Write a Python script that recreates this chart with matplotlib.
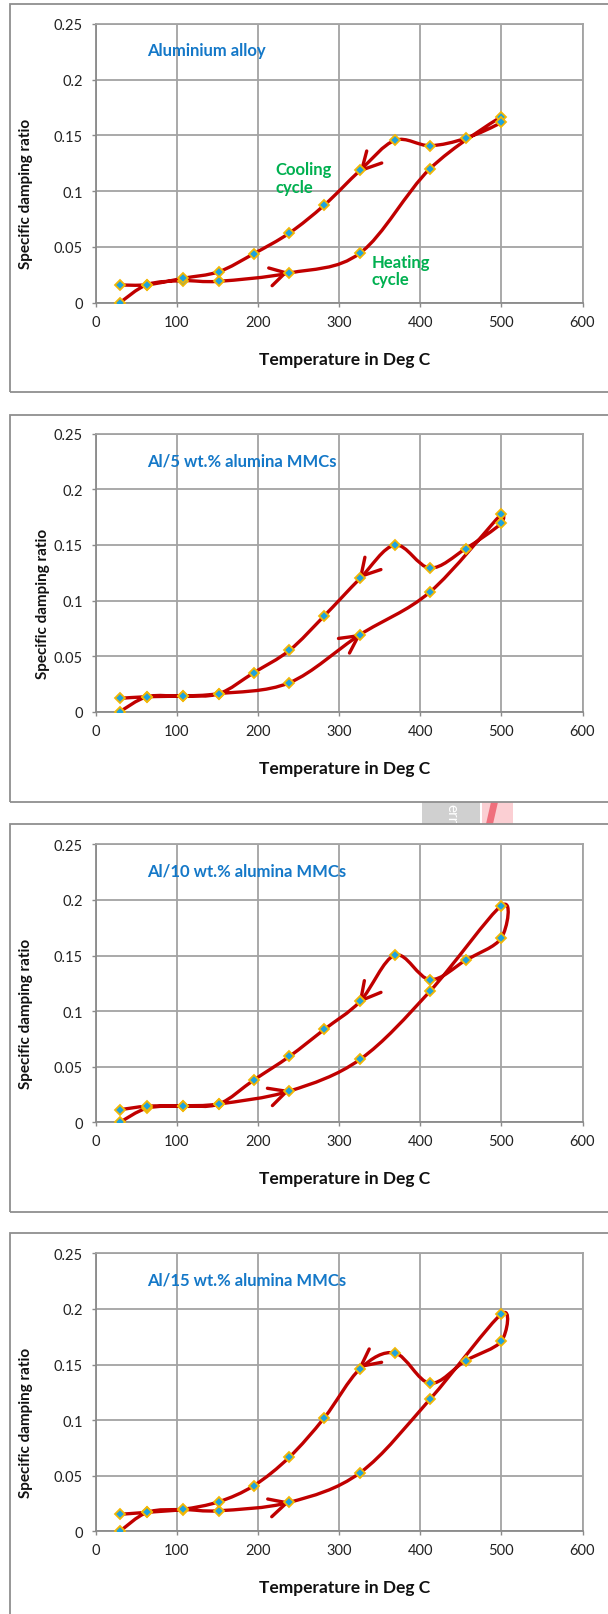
import numpy as np
import matplotlib
matplotlib.use("Agg")
import matplotlib.pyplot as plt
from matplotlib.path import Path
from matplotlib.patches import PathPatch, Rectangle, Polygon

plt.rcParams['font.family'] = ['Lato', 'DejaVu Sans']

W, H, DPI = 608, 1615, 100

# ---------------- data ----------------
titles = ["Aluminium alloy", "Al/5 wt.% alumina MMCs",
          "Al/10 wt.% alumina MMCs", "Al/15 wt.% alumina MMCs"]

heat_temp = [30, 64, 108, 152, 239, 326, 412, 500]
cool_temp = [500, 456, 412, 369, 326, 282, 239, 195, 152, 108, 64, 30]

heat_sdr_al = [0.0, 0.0163, 0.0197, 0.0192, 0.0266, 0.0445, 0.1200, 0.1667]
cool_sdr_al = [0.1616, 0.1473, 0.1407, 0.1455, 0.1186, 0.0875, 0.0625,
               0.0439, 0.0278, 0.0219, 0.0161, 0.0159]

heat_sdr_5 = [0.0, 0.0135, 0.0141, 0.0162, 0.0261, 0.0693, 0.1076, 0.1775]
cool_sdr_5 = [0.1694, 0.1466, 0.1292, 0.1499, 0.1199, 0.0863, 0.0552,
              0.0351, 0.0162, 0.0141, 0.0135, 0.0120]

heat_sdr_10 = [0.0, 0.0128, 0.0147, 0.0165, 0.0281, 0.0566, 0.1178, 0.1948]
cool_sdr_10 = [0.1657, 0.1457, 0.1283, 0.1504, 0.1088, 0.0836, 0.0593,
               0.0380, 0.0165, 0.0147, 0.0145, 0.0113]

heat_sdr_15 = [0.0, 0.0171, 0.0195, 0.0185, 0.0261, 0.0527, 0.1187, 0.1954]
cool_sdr_15 = [0.1709, 0.1534, 0.1331, 0.1603, 0.1462, 0.1022, 0.0668,
               0.0410, 0.0266, 0.0198, 0.0171, 0.0153]

heat_series = [heat_sdr_al, heat_sdr_5, heat_sdr_10, heat_sdr_15]
cool_series = [cool_sdr_al, cool_sdr_5, cool_sdr_10, cool_sdr_15]

x_ticks = [0, 100, 200, 300, 400, 500, 600]
y_ticks = [0, 0.05, 0.1, 0.15, 0.2, 0.25]
y_ticklabels = ["0", "0.05", "0.1", "0.15", "0.2", "0.25"]
x_label = "Temperature in Deg C"
y_label = "Specific damping ratio"

# ---------------- layout (pixels) ----------------
AX_L, AX_R = 95.5, 582.5
layout = [
    dict(top=24.7, bot=303.7, frame=(5, 393), ylab_x=26),
    dict(top=434.7, bot=712.7, frame=(416, 803), ylab_x=43),
    dict(top=845.3, bot=1123.3, frame=(825, 1213), ylab_x=26),
    dict(top=1254.3, bot=1532.3, frame=(1234, 1640), ylab_x=26),
]
# arrow annotations: apex (data), arms (pixel offsets, y down)
arrows = [
    [((234, 0.0269), [(-16.7, -4.7), (-13.3, 13)]),
     ((328, 0.1189), [(5, -19), (20, -7)])],
    [((324, 0.0683), [(-20, 2.7), (-9, 17.3)]),
     ((327, 0.1218), [(4, -19), (20, -6.7)])],
    [((235.6, 0.0279), [(-19.3, -3), (-14.3, 14.3)]),
     ((326.7, 0.1094), [(3.7, -20), (20.3, -8.3)])],
    [((235.6, 0.0257), [(-19, -3.7), (-15, 14)]),
     ((327, 0.1484), [(8.3, -17.3), (20.7, -4)])],
]

LINE_RED = "#C00000"
MK_FILL = "#1CA3DE"
MK_EDGE = "#F2B705"
GRID = "#A3A3A3"
BLUE = "#1478C8"
GREEN = "#00B050"


def fx(px):
    return px / W


def fy(py):
    return 1 - py / H


def smooth_path(ax, xs, ys):
    """Excel-like smoothed line: Catmull-Rom Bezier in display space,
    control arms limited to half the segment length."""
    pts = ax.transData.transform(np.column_stack([xs, ys]).astype(float))
    n = len(pts)
    verts = [pts[0]]
    codes = [Path.MOVETO]

    def clamp(v, seg):
        L = np.hypot(*v)
        lim = 0.5 * seg
        return v * (lim / L) if L > lim and L > 0 else v

    for i in range(n - 1):
        p0 = pts[i - 1] if i > 0 else pts[i]
        p1 = pts[i]
        p2 = pts[i + 1]
        p3 = pts[i + 2] if i + 2 < n else pts[i + 1]
        seg = np.hypot(*(p2 - p1))
        c1 = p1 + clamp((p2 - p0) / 6.0, seg)
        c2 = p2 - clamp((p3 - p1) / 6.0, seg)
        verts += [c1, c2, p2]
        codes += [Path.CURVE4] * 3
    data_verts = ax.transData.inverted().transform(np.array(verts))
    return Path(data_verts, codes)


fig = plt.figure(figsize=(W / DPI, H / DPI), dpi=DPI)
fig.patch.set_facecolor("white")

# watermark fragment between panels 2 and 3
fig.add_artist(Rectangle((fx(421.7), fy(825)), (480 - 421.7) / W, 22 / H,
                         transform=fig.transFigure, fc="#d0d0d0", ec="none", zorder=0))
fig.add_artist(Rectangle((fx(482), fy(825)), 31 / W, 22 / H,
                         transform=fig.transFigure, fc="#fbcfd3", ec="none", zorder=0))
fig.add_artist(Polygon([(fx(486), fy(825)), (fx(493), fy(825)), (fx(498), fy(803)), (fx(491), fy(803))],
                       closed=True, transform=fig.transFigure, fc="#ef6f7c", ec="none", zorder=0))
fig.text(fx(451), fy(814), "err", rotation=-90, color="white", fontsize=11,
         ha="center", va="center", zorder=1, clip_on=False)

for k, lay in enumerate(layout):
    f0, f1 = lay["frame"]
    fig.add_artist(Rectangle((fx(9.7), fy(f1)), (640 - 9.7) / W, (f1 - f0) / H,
                             transform=fig.transFigure, fill=False,
                             ec="#8f8f8f", lw=1.3, zorder=2))

    ax = fig.add_axes([fx(AX_L), fy(lay["bot"]), (AX_R - AX_L) / W,
                       (lay["bot"] - lay["top"]) / H])
    ax.set_xlim(0, 600)
    ax.set_ylim(0, 0.25)
    ax.set_xticks(x_ticks)
    ax.set_xticklabels([str(t) for t in x_ticks])
    ax.set_yticks(y_ticks)
    ax.set_yticklabels(y_ticklabels)
    ax.grid(True, color=GRID, lw=1.3)
    ax.set_axisbelow(True)
    for s in ax.spines.values():
        s.set_color(GRID)
        s.set_linewidth(1.3)
    ax.spines["left"].set_color("#8a8a8a")
    ax.spines["bottom"].set_color("#8a8a8a")
    ax.tick_params(axis="both", length=3, width=1, color="#8a8a8a",
                   labelsize=10.5, labelcolor="#222222")
    ax.tick_params(axis="y", pad=6.2)
    ax.tick_params(axis="x", pad=5.5)

    xs = heat_temp + cool_temp
    ys = heat_series[k] + cool_series[k]
    path = smooth_path(ax, xs, ys)
    ax.add_patch(PathPatch(path, fill=False, ec=LINE_RED, lw=2.4,
                           capstyle="round", joinstyle="round", zorder=3))
    ax.plot(xs, ys, ls="none", marker="D", ms=5.4, mfc=MK_FILL,
            mec=MK_EDGE, mew=1.3, zorder=4)

    for (apex, arms) in arrows[k]:
        for dx, dy in arms:
            ax.annotate("", xy=apex, xycoords="data",
                        xytext=(dx * 0.72, -dy * 0.72), textcoords="offset points",
                        arrowprops=dict(arrowstyle="-", color=LINE_RED, lw=2.4,
                                        shrinkA=0, shrinkB=0, capstyle="round"),
                        zorder=3)

    ax.text(63, 0.226, titles[k], color=BLUE, fontsize=12,
            fontweight="bold", ha="left", va="center")

    if k == 0:
        ax.text(222, 0.1117, "Cooling\ncycle", color=GREEN, fontsize=12,
                fontweight="bold", ha="left", va="center", linespacing=1.1)
        ax.text(340.6, 0.0286, "Heating\ncycle", color=GREEN, fontsize=12,
                fontweight="bold", ha="left", va="center", linespacing=1.1)

    fig.text(fx(345), fy(lay["bot"] + 56), x_label, fontsize=12.5,
             fontweight="bold", ha="center", va="center", color="#111111")
    fig.text(fx(lay["ylab_x"]), fy((lay["top"] + lay["bot"]) / 2 + 30), y_label,
             fontsize=11, fontweight="bold", rotation=90, ha="center",
             va="center", color="#111111")

fig.savefig("out.png", dpi=DPI, facecolor="white")
